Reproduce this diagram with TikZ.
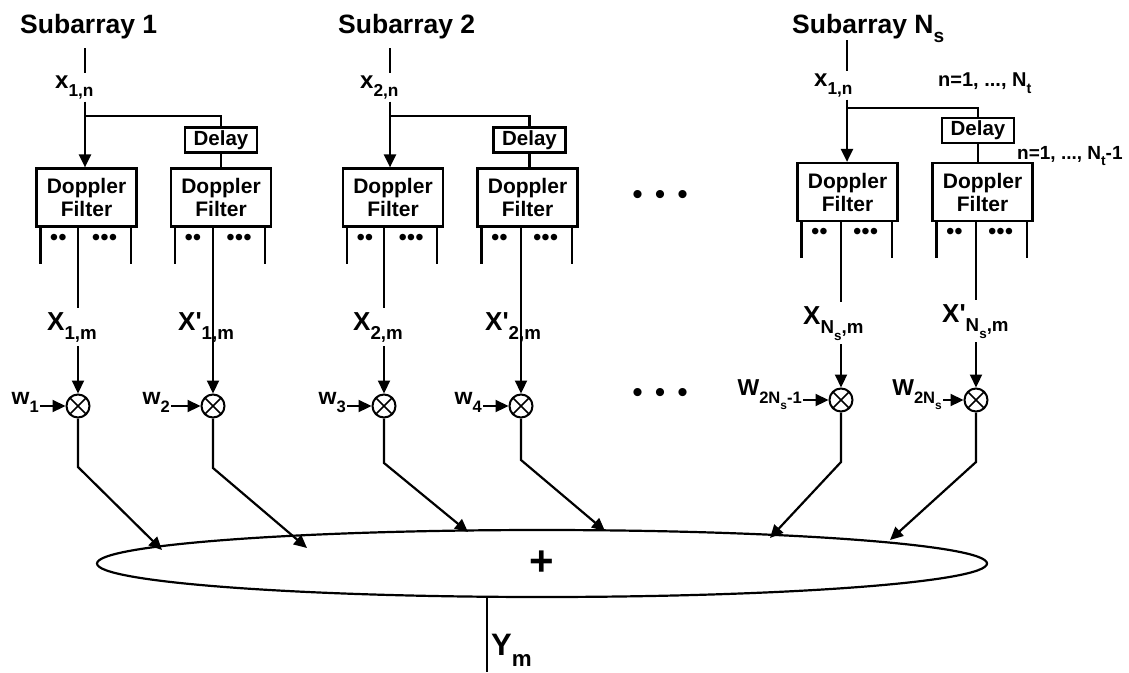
\documentclass[tikz,border=0pt]{standalone}
\usepackage{fontspec}
\usepackage{graphicx}
\setmainfont{Liberation Sans}
\usetikzlibrary{shapes.geometric, arrows.meta, positioning, calc}
% lowered, smaller subscript as in the drawing
\newcommand{\lsub}[1]{\raisebox{-0.36em}{\scalebox{0.72}{#1}}}
\tikzset{
  % Text styles
  titletext/.style={font=\fontsize{26.5}{28}\selectfont\bfseries, inner sep=0pt, anchor=base west},
  insig/.style={font=\fontsize{24}{26}\selectfont\bfseries, inner sep=2pt, anchor=base west},
  outsig/.style={font=\fontsize{26}{28}\selectfont\bfseries, inner sep=1pt, anchor=base west},
  weight/.style={font=\fontsize{23}{24}\selectfont\bfseries, inner sep=1pt, anchor=base east},
  rangetext/.style={font=\fontsize{#1}{22}\selectfont\bfseries, inner sep=0pt, anchor=base west},
  rangetext/.default={19},
  legdots/.style={font=\fontsize{24}{24}\selectfont, inner sep=0pt},
  bigdots/.style={font=\fontsize{30}{32}\selectfont, inner sep=0pt},
  % Block styles
  dfilter/.style={rectangle, draw=black, line width=2.2pt, minimum width=100pt, minimum height=58pt, inner sep=0pt, align=center, font=\fontsize{21}{23}\selectfont\bfseries},
  delaybox/.style={rectangle, draw=black, line width=2.2pt, minimum width=72pt, minimum height=25pt, inner sep=0pt, font=\fontsize{20.5}{22}\selectfont\bfseries},
  mult/.style={circle, draw=black, line width=2pt, minimum size=23pt, inner sep=0pt,
    path picture={\draw[line width=1.6pt] (path picture bounding box.south west) -- (path picture bounding box.north east)
      (path picture bounding box.north west) -- (path picture bounding box.south east);}},
  sumnode/.style={ellipse, draw=black, line width=2.2pt, minimum width=890pt, minimum height=67pt, inner sep=0pt, font=\fontsize{42}{44}\selectfont\bfseries},
  % Lines
  wire/.style={line width=2.2pt},
  arrow/.style={-{Triangle[length=13pt, width=12pt]}, line width=2.2pt},
}

\begin{document}
\begin{tikzpicture}[x=1pt, y=-1pt]
    \useasboundingbox (0,0) rectangle (1129,672);

    % Subarray 1
    \node[titletext] (t1) at (20,33) {Subarray 1};
    \coordinate (s1) at (85,48);
    \node[insig] (x1) at (53,88) {x\lsub{1,n}};
    \coordinate (j1) at (85,116);
    \node[dfilter] (df1) at (86.5,197.5) {Doppler\\Filter};
    \node[delaybox] (dl1) at (221,140) {Delay};
    \node[dfilter] (df2) at (221,197.5) {Doppler\\Filter};

    % Subarray 2
    \node[titletext] (t2) at (338,33) {Subarray 2};
    \coordinate (s3) at (390,48);
    \node[insig] (x3) at (358,88) {x\lsub{2,n}};
    \coordinate (j3) at (390,116);
    \node[dfilter] (df3) at (393,197.5) {Doppler\\Filter};
    \node[delaybox] (dl3) at (529.5,140) {Delay};
    \node[dfilter] (df4) at (527.5,197.5) {Doppler\\Filter};

    % Subarray N_s
    \node[titletext] (t3) at (792,33) {Subarray N\lsub{s}};
    \coordinate (s5) at (847,40);
    \node[insig] (x5) at (812,86) {x\lsub{1,n}};
    \coordinate (j5) at (847,108);
    \node[dfilter] (df5) at (847.5,192) {Doppler\\Filter};
    \node[delaybox] (dl5) at (978,130.5) {Delay};
    \node[dfilter] (df6) at (982.5,192) {Doppler\\Filter};
    \node[rangetext=20] (r1) at (938,86) {n=1, ..., N\lsub{t}};
    \node[rangetext] (r2) at (1017,159) {n=1, ..., N\lsub{t}-1};

    % Inputs
    \draw[wire] (s1) -- (s1 |- x1.north);
    \draw[arrow] (s1 |- x1.south) -- (s1 |- df1.north);
    \draw[wire] (j1) -| (dl1.north);
    \draw[wire] (dl1.south) -- (dl1.south |- df2.north);
    \draw[wire] (s3) -- (s3 |- x3.north);
    \draw[arrow] (s3 |- x3.south) -- (s3 |- df3.north);
    \draw[wire] (j3) -| (dl3.north);
    \draw[wire] (dl3.south) -- (dl3.south |- df4.north);
    \draw[wire] (s5) -- (s5 |- x5.north);
    \draw[arrow] (s5 |- x5.south) -- (s5 |- df5.north);
    \draw[wire] (j5) -| (dl5.north);
    \draw[wire] (dl5.south) -- (dl5.south |- df6.north);

    % Filter outputs
    \foreach \f in {df1,df2,df3,df4,df5,df6} {
      \draw[wire] ([xshift=5pt]\f.south west) -- ++(0,36);
      \draw[wire] ([xshift=-7pt]\f.south east) -- ++(0,36);
      \node[legdots] at ([xshift=23pt, yshift=-12pt]\f.south west) {••};
      \node[legdots] at ([xshift=-33pt, yshift=-12pt]\f.south east) {•••};
    }

    % Multipliers
    \node[mult] (m1) at (78,406) {};
    \node[mult] (m2) at (213,406) {};
    \node[mult] (m3) at (384,406) {};
    \node[mult] (m4) at (521,406) {};
    \node[mult] (m5) at (841,400) {};
    \node[mult] (m6) at (976,400) {};

    \draw[arrow] (m1 |- df1.south) -- (m1);
    \draw[arrow] (m2 |- df2.south) -- (m2);
    \draw[arrow] (m3 |- df3.south) -- (m3);
    \draw[arrow] (m4 |- df4.south) -- (m4);
    \draw[arrow] (m5 |- df5.south) -- (m5);
    \draw[arrow] (m6 |- df6.south) -- (m6);

    \node[outsig, fill=white, inner ysep=4pt] (X1) at (46,330) {X\lsub{1,m}};
    \node[outsig] (X2) at (177,330) {X\textquotesingle\lsub{1,m}};
    \node[outsig, fill=white, inner ysep=4pt] (X3) at (352,330) {X\lsub{2,m}};
    \node[outsig] (X4) at (484,330) {X\textquotesingle\lsub{2,m}};
    \node[outsig, fill=white, inner ysep=4pt] (X5) at (802,324) {X\lsub{N\lsub{s},m}};
    \node[outsig, fill=white, inner ysep=4pt] (X6) at (941,322) {X\textquotesingle\lsub{N\lsub{s},m}};

    % Weights
    \node[weight] (w1) at (40,404) {w\lsub{1}};
    \node[weight] (w2) at (171,404) {w\lsub{2}};
    \node[weight] (w3) at (347,404) {w\lsub{3}};
    \node[weight] (w4) at (483,404) {w\lsub{4}};
    \node[weight] (w5) at (803,395) {W\lsub{2N\lsub{s}-1}};
    \node[weight] (w6) at (943,395) {W\lsub{2N\lsub{s}}};
    \draw[arrow] (w1.east |- m1) -- (m1.west);
    \draw[arrow] (w2.east |- m2) -- (m2.west);
    \draw[arrow] (w3.east |- m3) -- (m3.west);
    \draw[arrow] (w4.east |- m4) -- (m4.west);
    \draw[arrow] (w5.east |- m5) -- (m5.west);
    \draw[arrow] (w6.east |- m6) -- (m6.west);

    \node[bigdots] (dotsA) at (660,197) {•\hspace{12pt}•\hspace{12pt}•};
    \node[bigdots] (dotsB) at (660,395) {•\hspace{12pt}•\hspace{12pt}•};

    % Summation
    \node[sumnode] (sum) at (542,563.5) {+};
    \coordinate (e1) at (162,550);
    \coordinate (e2) at (307,548);
    \coordinate (e3) at (468,532);
    \coordinate (e4) at (605,531);
    \coordinate (e5) at (770,538);
    \coordinate (e6) at (890,540);
    \draw[arrow] (m1) -- (78,467) -- (e1);
    \draw[arrow] (m2) -- (213,468) -- (e2);
    \draw[arrow] (m3) -- (384,463) -- (e3);
    \draw[arrow] (m4) -- (521,460) -- (e4);
    \draw[arrow] (m5) -- (841,462) -- (e5);
    \draw[arrow] (m6) -- (976,462) -- (e6);

    % Output
    \coordinate (yend) at (487,672);
    \draw[wire] (yend |- sum.south) -- (yend);
    \node[outsig, font=\fontsize{31}{34}\selectfont\bfseries] (ym) at (490,655) {Y\lsub{m}};
  \end{tikzpicture}
\end{document}
